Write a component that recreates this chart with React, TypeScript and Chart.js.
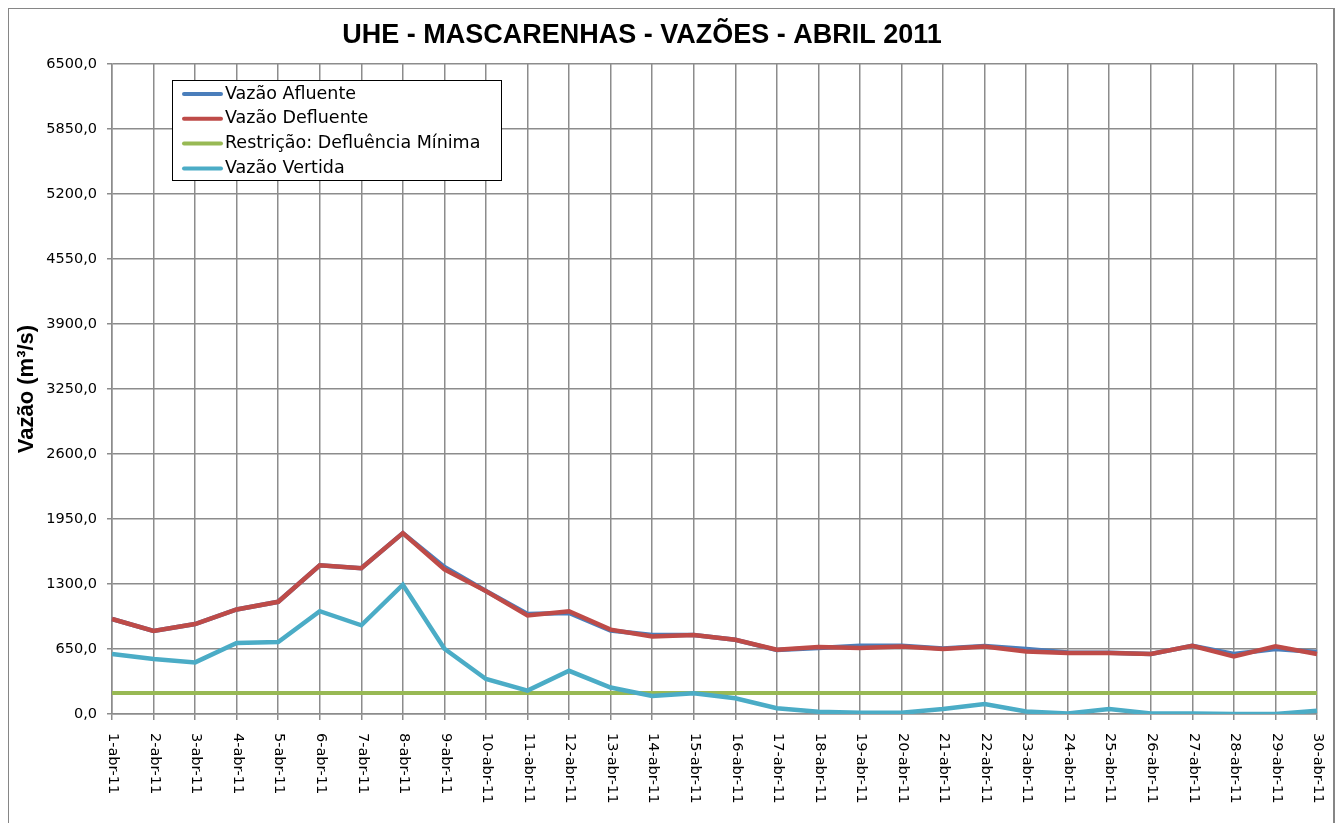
import { useEffect, useRef } from "react";
import { Chart, registerables } from "chart.js";

Chart.register(...registerables);

const TITLE = "UHE - MASCARENHAS - VAZÕES - ABRIL 2011";
const Y_TITLE = "Vazão (m³/s)";

const categories = [
  "1-abr-11", "2-abr-11", "3-abr-11", "4-abr-11", "5-abr-11", "6-abr-11",
  "7-abr-11", "8-abr-11", "9-abr-11", "10-abr-11", "11-abr-11", "12-abr-11",
  "13-abr-11", "14-abr-11", "15-abr-11", "16-abr-11", "17-abr-11", "18-abr-11",
  "19-abr-11", "20-abr-11", "21-abr-11", "22-abr-11", "23-abr-11", "24-abr-11",
  "25-abr-11", "26-abr-11", "27-abr-11", "28-abr-11", "29-abr-11", "30-abr-11",
];

const vazaoAfluente = [
  950, 830, 900, 1045, 1122, 1487, 1457, 1809, 1470, 1230,
  1000, 1010, 834, 790, 790, 743, 639, 660, 683, 683,
  655, 680, 650, 615, 612, 600, 683, 600, 650, 620,
];

const vazaoDefluente = [
  950, 830, 900, 1045, 1122, 1487, 1457, 1809, 1447, 1229,
  985, 1028, 844, 775, 790, 743, 643, 670, 660, 676,
  650, 676, 626, 610, 610, 600, 683, 576, 676, 600,
];

const restricaoMinima = [
  210, 210, 210, 210, 210, 210, 210, 210, 210, 210,
  210, 210, 210, 210, 210, 210, 210, 210, 210, 210,
  210, 210, 210, 210, 210, 210, 210, 210, 210, 210,
];

const vazaoVertida = [
  600, 549, 516, 710, 720, 1028, 887, 1293, 653, 350,
  234, 432, 265, 181, 208, 157, 57, 23, 13, 13,
  50, 100, 26, 5, 50, 5, 5, 0, 0, 33,
];

const Y_MIN = 0;
const Y_MAX = 6500;
const Y_STEP = 650;

const GRID = "#8c8c8c";
const FONT = '"DejaVu Sans", Verdana, sans-serif';

const titlePlugin = {
  id: "customTitle",
  afterDraw(chart: any) {
    const ctx = chart.ctx;
    ctx.save();
    ctx.font = 'bold 27px "Liberation Sans", Arial, sans-serif';
    ctx.fillStyle = "#000";
    ctx.textAlign = "center";
    ctx.textBaseline = "alphabetic";
    ctx.fillText(TITLE, 634, 35);
    ctx.restore();
  },
};

const xLabelPlugin = {
  id: "xLabels",
  afterDraw(chart: any) {
    const xs = chart.scales.x;
    const ctx = chart.ctx;
    ctx.save();
    ctx.font = `14.5px ${FONT}`;
    ctx.fillStyle = "#000";
    ctx.textAlign = "left";
    ctx.textBaseline = "middle";
    const labels = chart.data.labels as string[];
    labels.forEach((lab, i) => {
      const x = xs.getPixelForTick(i) + 1;
      ctx.save();
      ctx.translate(x, xs.top + 19);
      ctx.rotate(Math.PI / 2);
      ctx.fillText(lab, 0, 0);
      ctx.restore();
    });
    ctx.restore();
  },
};

const legendPlugin = {
  id: "boxLegend",
  afterDraw(chart: any) {
    const ctx = chart.ctx;
    const bx = 164, by = 72, bw = 329, bh = 100;
    ctx.save();
    ctx.fillStyle = "#fff";
    ctx.fillRect(bx, by, bw, bh);
    ctx.strokeStyle = "#000";
    ctx.lineWidth = 1;
    ctx.strokeRect(bx + 0.5, by + 0.5, bw, bh);
    ctx.font = `17.5px ${FONT}`;
    ctx.textAlign = "left";
    ctx.textBaseline = "middle";
    chart.data.datasets.forEach((ds: any, i: number) => {
      const y = by + 14 + i * 24.8;
      ctx.strokeStyle = ds.borderColor;
      ctx.lineWidth = 4;
      ctx.lineCap = "round";
      ctx.beginPath();
      ctx.moveTo(176, y);
      ctx.lineTo(213, y);
      ctx.stroke();
      ctx.fillStyle = "#000";
      ctx.fillText(ds.label, 217, y);
    });
    ctx.restore();
  },
};

export default function App() {
  const ref = useRef<HTMLCanvasElement | null>(null);

  useEffect(() => {
    if (!ref.current) return;
    const chart = new Chart(ref.current, {
      type: "line",
      data: {
        labels: categories,
        datasets: [
          {
            label: "Vazão Afluente",
            data: vazaoAfluente,
            borderColor: "#4A7EBB",
            backgroundColor: "#4A7EBB",
            borderWidth: 4.5,
            pointRadius: 0,
            tension: 0,
            order: 4,
          },
          {
            label: "Vazão Defluente",
            data: vazaoDefluente,
            borderColor: "#BE4B48",
            backgroundColor: "#BE4B48",
            borderWidth: 4.5,
            pointRadius: 0,
            tension: 0,
            order: 3,
          },
          {
            label: "Restrição: Defluência Mínima",
            data: restricaoMinima,
            borderColor: "#98B954",
            backgroundColor: "#98B954",
            borderWidth: 4,
            pointRadius: 0,
            tension: 0,
            order: 2,
          },
          {
            label: "Vazão Vertida",
            data: vazaoVertida,
            borderColor: "#4BACC6",
            backgroundColor: "#4BACC6",
            borderWidth: 4.5,
            pointRadius: 0,
            tension: 0,
            order: 1,
          },
        ],
      },
      options: {
        animation: false,
        responsive: true,
        maintainAspectRatio: false,
        layout: { padding: { top: 56, right: 18, left: 0, bottom: 0 } },
        plugins: {
          legend: { display: false },
          title: { display: false },
          tooltip: { enabled: false },
        },
        scales: {
          x: {
            type: "category",
            offset: false,
            grid: {
              color: GRID,
              lineWidth: 1.5,
              offset: false,
              drawTicks: true,
              tickLength: 6,
            },
            border: { color: GRID, width: 1.5 },
            ticks: { display: false },
            afterFit: (s: any) => {
              s.height = 124;
            },
          },
          y: {
            min: Y_MIN,
            max: Y_MAX,
            grid: { color: GRID, lineWidth: 1.5, drawTicks: true, tickLength: 5 },
            border: { color: GRID, width: 1.5 },
            ticks: {
              stepSize: Y_STEP,
              padding: 10,
              color: "#000",
              font: { family: FONT, size: 14.5 },
              callback: (v: any) => Number(v).toFixed(1).replace(".", ","),
            },
            title: {
              display: true,
              text: Y_TITLE,
              color: "#000",
              font: { family: '"Liberation Sans", Arial, sans-serif', size: 22, weight: "bold" },
              padding: { top: 6, bottom: 0 },
            },
            afterFit: (s: any) => {
              s.width = 104;
            },
          },
        },
      },
      plugins: [titlePlugin, xLabelPlugin, legendPlugin],
    });
    return () => chart.destroy();
  }, []);

  return (
    <div
      style={{
        position: "fixed",
        left: 8,
        top: 8,
        width: 1327,
        height: 830,
        background: "#fff",
      }}
    >
      <canvas ref={ref} />
      <div
        style={{
          position: "absolute",
          inset: 0,
          boxSizing: "border-box",
          borderLeft: "1px solid #868686",
          borderTop: "1px solid #868686",
          borderRight: "2px solid #868686",
          pointerEvents: "none",
        }}
      />
    </div>
  );
}
